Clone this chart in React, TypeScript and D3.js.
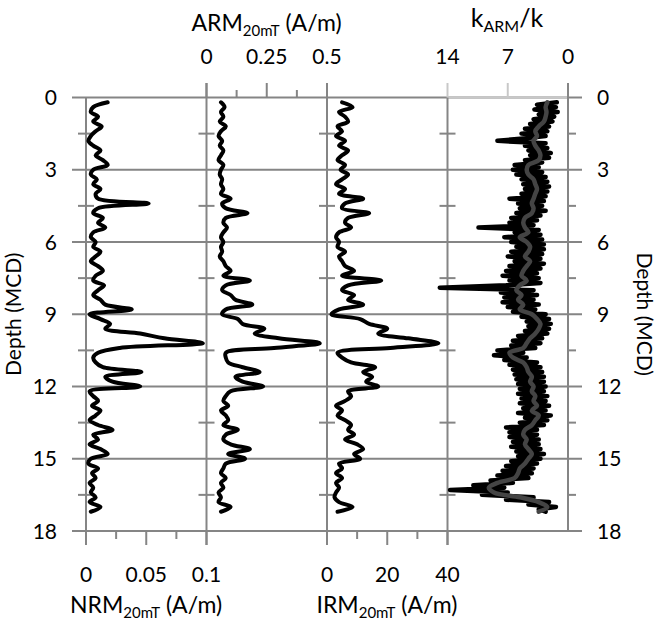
import React from "react";
import * as d3 from "d3";

const depths = [
  0.2, 0.4, 0.6, 0.8, 1.0, 1.2, 1.4, 1.6, 1.8, 2.0, 2.2, 2.4, 2.6, 2.8, 3.0,
  3.2, 3.4, 3.6, 3.8, 4.0, 4.2, 4.4, 4.6, 4.8, 5.0, 5.2, 5.4, 5.6, 5.8, 6.0,
  6.2, 6.4, 6.6, 6.8, 7.0, 7.2, 7.4, 7.6, 7.8, 8.0, 8.2, 8.4, 8.6, 8.8, 9.0,
  9.2, 9.4, 9.6, 9.8, 10.0, 10.2, 10.4, 10.6, 10.8, 11.0, 11.2, 11.4, 11.6,
  11.8, 12.0, 12.2, 12.4, 12.6, 12.8, 13.0, 13.2, 13.4, 13.6, 13.8, 14.0,
  14.2, 14.4, 14.6, 14.8, 15.0, 15.2, 15.4, 15.6, 15.8, 16.0, 16.2, 16.4,
  16.6, 16.8, 17.0, 17.2,
];

const nrm = [
  0.018, 0.006, 0.004, 0.01, 0.006, 0.013, 0.008, 0.004, 0.002, 0.006, 0.012,
  0.008, 0.014, 0.018, 0.006, 0.004, 0.009, 0.006, 0.012, 0.008, 0.01, 0.052,
  0.01, 0.006, 0.014, 0.01, 0.016, 0.006, 0.004, 0.008, 0.006, 0.012, 0.008,
  0.004, 0.01, 0.014, 0.008, 0.006, 0.015, 0.01, 0.006, 0.012, 0.016, 0.038,
  0.003, 0.012, 0.02, 0.016, 0.045, 0.065, 0.097, 0.028, 0.01, 0.006, 0.008,
  0.014, 0.046, 0.016, 0.022, 0.045, 0.003, 0.006, 0.01, 0.005, 0.012, 0.008,
  0.003, 0.01, 0.022, 0.006, 0.01, 0.003, 0.012, 0.018, 0.004, 0.002, 0.01,
  0.005, 0.008, 0.003, 0.006, 0.004, 0.008, 0.003, 0.012, 0.004,
];

const arm = [
  0.06, 0.075, 0.06, 0.07, 0.055, 0.08, 0.06, 0.05, 0.065, 0.055, 0.07, 0.06,
  0.05, 0.07, 0.06, 0.055, 0.065, 0.06, 0.07, 0.06, 0.1, 0.065, 0.08, 0.17,
  0.08, 0.07, 0.085, 0.07, 0.06, 0.07, 0.06, 0.065, 0.055, 0.07, 0.08, 0.1,
  0.07, 0.18, 0.08, 0.065, 0.1, 0.12, 0.19, 0.08, 0.065, 0.13, 0.15, 0.24,
  0.2, 0.3, 0.47, 0.28, 0.08, 0.08, 0.09, 0.15, 0.22, 0.12, 0.15, 0.235, 0.1,
  0.08, 0.07, 0.09, 0.06, 0.08, 0.09, 0.07, 0.13, 0.08, 0.07, 0.1, 0.18,
  0.09, 0.16, 0.08, 0.07, 0.06, 0.08, 0.06, 0.07, 0.05, 0.06, 0.05, 0.1,
  0.06,
];

const irm = [
  5, 8.5, 4, 6, 7, 3.5, 5, 3, 6, 4, 7, 5, 3.5, 6, 4.5, 7, 5, 3, 6, 4, 12, 6,
  5, 14, 7, 6, 8, 4, 3, 4, 3.5, 6, 4, 5, 6, 9, 5, 18, 7, 5, 9, 7, 12, 4, 1.5,
  11, 14, 20, 17, 27, 37, 21, 3.5, 5, 8, 16, 12, 15, 13, 17, 7, 8, 6, 3, 5,
  3.5, 6, 8, 7, 9, 6, 10, 12, 9, 11, 4, 5, 3, 5, 3, 4, 3, 2.5, 4, 8.5, 3.5,
];

// kARM/k smoothed curve (grey), on the 0.2 m grid above
const kSmooth = [
  2.4, 2.6, 2.5, 2.6, 2.8, 3.4, 3.8, 3.6, 4.0, 3.8, 3.4, 3.2, 3.4, 4.6, 4.8,
  4.6, 4.0, 3.8, 3.6, 3.8, 4.0, 4.2, 4.0, 4.2, 5.0, 5.2, 5.0, 4.6, 5.6, 4.8,
  4.4, 4.6, 5.0, 4.4, 4.8, 5.2, 5.4, 4.8, 5.6, 6.0, 5.4, 5.8, 5.2, 5.6, 4.2,
  3.6, 3.2, 3.4, 3.8, 4.4, 4.8, 5.2, 6.8, 6.4, 5.2, 4.8, 4.6, 4.2, 4.4, 4.0,
  4.2, 3.8, 4.0, 3.6, 4.2, 3.4, 3.8, 4.2, 5.0, 5.2, 4.8, 5.0, 4.6, 4.2, 4.6,
  5.0, 5.6, 5.8, 6.2, 8.2, 9.2, 8.6, 5.6, 3.4, 2.4, 3.4,
];

// kARM/k raw curve (black), 0.1 m sampling
const kDepths = [
  0.2, 0.3, 0.4, 0.5, 0.6, 0.7, 0.8, 0.9, 1.0, 1.1, 1.2, 1.3, 1.4, 1.5, 1.6,
  1.7, 1.8, 1.9, 2.0, 2.1, 2.2, 2.3, 2.4, 2.5, 2.6, 2.7, 2.8, 2.9, 3.0, 3.1,
  3.2, 3.3, 3.4, 3.5, 3.6, 3.7, 3.8, 3.9, 4.0, 4.1, 4.2, 4.3, 4.4, 4.5, 4.6,
  4.7, 4.8, 4.9, 5.0, 5.1, 5.2, 5.3, 5.4, 5.5, 5.6, 5.7, 5.8, 5.9, 6.0, 6.1,
  6.2, 6.3, 6.4, 6.5, 6.6, 6.7, 6.8, 6.9, 7.0, 7.1, 7.2, 7.3, 7.4, 7.5, 7.6,
  7.7, 7.8, 7.9, 8.0, 8.1, 8.2, 8.3, 8.4, 8.5, 8.6, 8.7, 8.8, 8.9, 9.0, 9.1,
  9.2, 9.3, 9.4, 9.5, 9.6, 9.7, 9.8, 9.9, 10.0, 10.1, 10.2, 10.3, 10.4, 10.5,
  10.6, 10.7, 10.8, 10.9, 11.0, 11.1, 11.2, 11.3, 11.4, 11.5, 11.6, 11.7,
  11.8, 11.9, 12.0, 12.1, 12.2, 12.3, 12.4, 12.5, 12.6, 12.7, 12.8, 12.9,
  13.0, 13.1, 13.2, 13.3, 13.4, 13.5, 13.6, 13.7, 13.8, 13.9, 14.0, 14.1,
  14.2, 14.3, 14.4, 14.5, 14.6, 14.7, 14.8, 14.9, 15.0, 15.1, 15.2, 15.3,
  15.4, 15.5, 15.6, 15.7, 15.8, 15.9, 16.0, 16.1, 16.2, 16.3, 16.4, 16.5,
  16.6, 16.7, 16.8, 16.9, 17.0, 17.1, 17.2,
];
const kRaw = [
  1.3, 3.6, 1.4, 3.9, 1.2, 3.4, 1.6, 4.0, 1.8, 4.4, 2.2, 5.0, 2.4, 5.4, 2.6,
  5.2, 8.2, 2.6, 5.0, 2.4, 4.6, 2.0, 4.4, 2.2, 5.0, 3.0, 6.2, 3.4, 6.4, 3.0,
  6.0, 2.6, 5.4, 2.4, 5.2, 2.2, 5.0, 2.4, 5.4, 2.6, 6.8, 2.8, 5.8, 3.0, 5.6,
  2.6, 6.0, 3.2, 6.6, 3.6, 6.8, 4.0, 10.4, 3.4, 6.2, 3.2, 7.4, 3.0, 6.6, 2.8,
  6.0, 2.8, 6.6, 3.0, 7.0, 3.2, 6.2, 2.8, 6.8, 3.2, 7.2, 3.6, 7.6, 3.4, 6.8,
  3.2, 7.2, 14.9, 4.0, 7.8, 3.6, 7.4, 4.0, 7.6, 3.4, 7.0, 3.8, 6.4, 2.6, 5.4,
  2.2, 4.8, 2.0, 4.6, 2.2, 5.0, 2.4, 5.8, 3.0, 6.4, 3.2, 6.6, 3.8, 8.2,
  5.2, 8.6, 4.8, 7.4, 3.6, 6.8, 3.2, 6.4, 3.0, 6.2, 2.8, 6.0,
  2.8, 5.8, 2.6, 5.6, 2.8, 5.8, 2.4, 5.4, 2.6, 5.6, 2.2, 5.2,
  2.6, 5.8, 2.0, 5.0, 2.4, 5.6, 2.8, 7.2, 3.6, 6.8, 3.6, 6.8,
  3.4, 6.4, 3.4, 6.6, 3.2, 6.0, 2.8, 5.8, 3.2, 6.6, 3.6, 7.2,
  4.0, 7.6, 4.2, 8.2, 4.6, 9.0, 6.4, 11.0, 7.4, 13.7, 7.0, 10.0,
  4.0, 7.2, 2.2, 4.6, 1.4, 3.4, 2.6,
];

const depthTicks = [0, 3, 6, 9, 12, 15, 18];
const depthMinor = [1.5, 4.5, 7.5, 10.5, 13.5, 16.5];
const nrmTicks = [0, 0.05, 0.1];
const nrmMinor = [0.025, 0.075];
const armTicks = [0, 0.25, 0.5];
const armMinor = [0.125, 0.375];
const irmTicks = [0, 20, 40];
const irmMinor = [10, 30];
const kTicks = [14, 7, 0];

const FONT = "Lato, 'Open Sans', sans-serif";
const GRID = "#858585";
const LIGHT = "#c8c8c8";

export default function App() {
  const y = d3.scaleLinear().domain([0, 18]).range([97.5, 531]);
  const xN = d3.scaleLinear().domain([0, 0.1]).range([86, 206.5]);
  const xA = d3.scaleLinear().domain([0, 0.5]).range([206.5, 327]);
  const xI = d3.scaleLinear().domain([0, 40]).range([327, 447.5]);
  const xK = d3.scaleLinear().domain([14, 0]).range([447.5, 568]);

  const mk = (
    xs: d3.ScaleLinear<number, number>,
    ds: number[],
    vals: number[],
    curve: any
  ) =>
    d3
      .line<number>()
      .x((v) => xs(v))
      .y((_, i) => y(ds[i]))
      .curve(curve)(vals) || "";

  const smooth = d3.curveCatmullRom.alpha(0.5);
  const axes = [86, 206.5, 327, 447.5, 568];

  return (
    <svg
      width={658}
      height={622}
      style={{ position: "absolute", left: 0, top: 0, display: "block" }}
      fontFamily={FONT}
    >
      {/* horizontal gridlines */}
      {depthTicks.map((t) => (
        <line key={"g" + t} x1={72} x2={582} y1={y(t)} y2={y(t)} stroke={GRID} strokeWidth={2} />
      ))}
      <line x1={447.5} x2={568} y1={y(0)} y2={y(0)} stroke={LIGHT} strokeWidth={2} />
      {/* vertical axis lines */}
      <line x1={86} x2={86} y1={y(0)} y2={545} stroke={GRID} strokeWidth={2} />
      <line x1={206.5} x2={206.5} y1={83} y2={545} stroke={GRID} strokeWidth={2} />
      <line x1={327} x2={327} y1={83} y2={545} stroke={GRID} strokeWidth={2} />
      <line x1={447.5} x2={447.5} y1={y(0)} y2={545} stroke={GRID} strokeWidth={2} />
      <line x1={447.5} x2={447.5} y1={83} y2={y(0)} stroke={LIGHT} strokeWidth={2} />
      <line x1={568} x2={568} y1={83} y2={y(18)} stroke={GRID} strokeWidth={2} />
      {/* minor depth ticks */}
      {axes.map((ax, j) =>
        depthMinor.map((t) => (
          <line
            key={"m" + j + t}
            x1={j === 4 ? ax : ax - 8}
            x2={ax + 8}
            y1={y(t)}
            y2={y(t)}
            stroke={GRID}
            strokeWidth={2}
          />
        ))
      )}
      {/* top ARM ticks */}
      {armTicks.map((t) => (
        <line key={"at" + t} x1={xA(t)} x2={xA(t)} y1={83} y2={y(0)} stroke={GRID} strokeWidth={2} />
      ))}
      {armMinor.map((t) => (
        <line key={"am" + t} x1={xA(t)} x2={xA(t)} y1={90} y2={y(0)} stroke={GRID} strokeWidth={2} />
      ))}
      <line x1={xK(7)} x2={xK(7)} y1={83} y2={y(0)} stroke={LIGHT} strokeWidth={2} />
      {/* bottom ticks */}
      {nrmTicks.map((t) => (
        <line key={"nt" + t} x1={xN(t)} x2={xN(t)} y1={y(18)} y2={545} stroke={GRID} strokeWidth={2} />
      ))}
      {nrmMinor.map((t) => (
        <line key={"nm" + t} x1={xN(t)} x2={xN(t)} y1={y(18)} y2={539} stroke={GRID} strokeWidth={2} />
      ))}
      {irmTicks.map((t) => (
        <line key={"it" + t} x1={xI(t)} x2={xI(t)} y1={y(18)} y2={545} stroke={GRID} strokeWidth={2} />
      ))}
      {irmMinor.map((t) => (
        <line key={"im" + t} x1={xI(t)} x2={xI(t)} y1={y(18)} y2={539} stroke={GRID} strokeWidth={2} />
      ))}

      {/* data curves */}
      <path d={mk(xN, depths, nrm, smooth)} fill="none" stroke="#000" strokeWidth={4} strokeLinejoin="round" strokeLinecap="round" />
      <path d={mk(xA, depths, arm, smooth)} fill="none" stroke="#000" strokeWidth={4} strokeLinejoin="round" strokeLinecap="round" />
      <path d={mk(xI, depths, irm, smooth)} fill="none" stroke="#000" strokeWidth={4} strokeLinejoin="round" strokeLinecap="round" />
      <path d={mk(xK, kDepths, kRaw, d3.curveLinear)} fill="none" stroke="#000" strokeWidth={4.5} strokeLinejoin="round" strokeLinecap="round" />
      <path d={mk(xK, depths, kSmooth, smooth)} fill="none" stroke="#444" strokeWidth={4.5} strokeLinejoin="round" strokeLinecap="round" />

      {/* depth labels */}
      {depthTicks.map((t) => (
        <text key={"l" + t} x={57} y={y(t) + 7.5} textAnchor="end" fontSize={21} fill="#000">
          {t}
        </text>
      ))}
      {depthTicks.map((t) => (
        <text key={"r" + t} x={597} y={y(t) + 7.5} textAnchor="start" fontSize={21} fill="#000">
          {t}
        </text>
      ))}
      <text transform={`translate(21,${y(9)}) rotate(-90)`} textAnchor="middle" fontSize={21} fill="#000">
        Depth (MCD)
      </text>
      <text transform={`translate(637,${y(9)}) rotate(90)`} textAnchor="middle" fontSize={21} fill="#000">
        Depth (MCD)
      </text>

      {/* top tick labels */}
      {armTicks.map((t) => (
        <text key={"atl" + t} x={xA(t)} y={64} textAnchor="middle" fontSize={21}>
          {t}
        </text>
      ))}
      {kTicks.map((t) => (
        <text key={"ktl" + t} x={xK(t)} y={64} textAnchor="middle" fontSize={21}>
          {t}
        </text>
      ))}
      {/* bottom tick labels */}
      {nrmTicks.map((t) => (
        <text key={"ntl" + t} x={xN(t)} y={582} textAnchor="middle" fontSize={21}>
          {t}
        </text>
      ))}
      {irmTicks.map((t) => (
        <text key={"itl" + t} x={xI(t)} y={582} textAnchor="middle" fontSize={21}>
          {t}
        </text>
      ))}

      {/* titles */}
      <text x={266.5} y={31} textAnchor="middle" fontSize={23}>
        ARM<tspan fontSize={15} dy={5}>20mT</tspan>
        <tspan dy={-5}> (A/m)</tspan>
      </text>
      <text x={507} y={27} textAnchor="middle" fontSize={25}>
        k<tspan fontSize={16} dy={5}>ARM</tspan>
        <tspan dy={-5}>/k</tspan>
      </text>
      <text x={146} y={613} textAnchor="middle" fontSize={23}>
        NRM<tspan fontSize={15} dy={5}>20mT</tspan>
        <tspan dy={-5}> (A/m)</tspan>
      </text>
      <text x={387} y={613} textAnchor="middle" fontSize={23}>
        IRM<tspan fontSize={15} dy={5}>20mT</tspan>
        <tspan dy={-5}> (A/m)</tspan>
      </text>
    </svg>
  );
}
